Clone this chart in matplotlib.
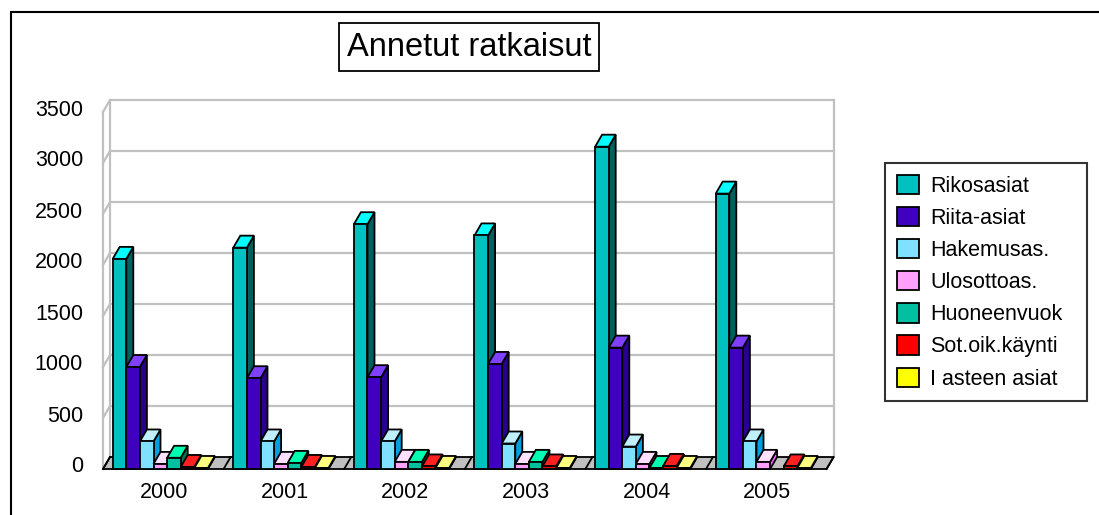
import matplotlib
matplotlib.use("Agg")
import matplotlib.pyplot as plt
from matplotlib.patches import Polygon, Patch, Rectangle
from matplotlib import transforms

plt.rcParams['font.family'] = ['Liberation Sans', 'DejaVu Sans']

# data
years = ['2000', '2001', '2002', '2003', '2004', '2005']
series = ['Rikosasiat', 'Riita-asiat', 'Hakemusas.', 'Ulosottoas.',
          'Huoneenvuok', 'Sot.oik.käynti', 'I asteen asiat']
rikos = [2060, 2170, 2400, 2290, 3160, 2700]
riita = [1000, 890, 900, 1030, 1190, 1190]
hakemus = [270, 270, 270, 250, 220, 270]
ulosotto = [50, 50, 70, 50, 50, 70]
huoneen = [110, 60, 70, 70, 10, 0]
sotoik = [20, 20, 25, 25, 30, 25]
iasteen = [10, 10, 10, 10, 10, 10]
values = [rikos, riita, hakemus, ulosotto, huoneen, sotoik, iasteen]
yticks = [0, 500, 1000, 1500, 2000, 2500, 3000, 3500]

# (front, top, side) colours of each series
colors = [('#00C0C0', '#00FFFF', '#006060'),
          ('#4000C0', '#8040FF', '#2A0090'),
          ('#80E0FF', '#C0F0FF', '#00A0E0'),
          ('#FFA0FF', '#FFE0FF', '#FF60FF'),
          ('#00C0A0', '#00FFB0', '#007858'),
          ('#FF0000', '#FF2020', '#A00000'),
          ('#FFFF00', '#FFFF80', '#C0C000')]

W, H = 1099, 515
fig = plt.figure(figsize=(W / 100, H / 100), dpi=100)
fig.patch.set_facecolor('white')

# front floor edge: x 103..826 px, value 0 at y=469, 3500 at y=112
ax = fig.add_axes([103 / W, (H - 469) / H, 723.6 / W, 357 / H])
ax.set_xlim(-0.5, 5.5)
ax.set_ylim(0, 3500)
ax.axis('off')

# depth offset of the 3d box (7 px right, 12 px up)
DX = 7 / 120.6
DY = 12 / 0.102
grid_c = '#C0C0C0'

# walls and gridlines
for v in yticks[1:]:
    ax.plot([-0.5, -0.5 + DX, 5.5 + DX], [v, v + DY, v + DY],
            color=grid_c, lw=1.6, clip_on=False, zorder=1)
ax.plot([-0.5, -0.5], [0, 3500], color=grid_c, lw=1.6, clip_on=False, zorder=1)
ax.plot([-0.5 + DX, -0.5 + DX], [DY, 3500 + DY], color=grid_c, lw=1.6,
        clip_on=False, zorder=1)
ax.plot([5.5 + DX, 5.5 + DX], [DY, 3500 + DY], color=grid_c, lw=1.6,
        clip_on=False, zorder=1)

# floor
floor = Polygon([(-0.5, 0), (5.5, 0), (5.5 + DX, DY), (-0.5 + DX, DY)],
                closed=True, facecolor='#C0C0C0', edgecolor='black', lw=1.3,
                clip_on=False, zorder=2)
ax.add_patch(floor)
for k in range(len(years) + 1):
    ax.plot([k - 0.5, k - 0.5 + DX], [0, DY], color='black', lw=1.3,
            clip_on=False, zorder=2)

# bars
bw = 13.6 / 120.6
off = 9.7 / 120.6
z = 3
for i in range(len(years)):
    for j, vals in enumerate(values):
        v = vals[i]
        if v <= 0:
            continue
        x0 = i - 0.5 + off + j * bw
        fc, tc, sc = colors[j]
        front = [(x0, 0), (x0 + bw, 0), (x0 + bw, v), (x0, v)]
        top = [(x0, v), (x0 + bw, v), (x0 + bw + DX, v + DY), (x0 + DX, v + DY)]
        side = [(x0 + bw, 0), (x0 + bw + DX, DY), (x0 + bw + DX, v + DY), (x0 + bw, v)]
        for pts, c in ((side, sc), (top, tc), (front, fc)):
            ax.add_patch(Polygon(pts, closed=True, facecolor=c, edgecolor='black',
                                 lw=1.3, joinstyle='miter', clip_on=False, zorder=z))
        z += 1

# y tick labels
ytr = transforms.offset_copy(ax.get_yaxis_transform(), fig=fig, x=-20, y=2, units='dots')
for v in yticks:
    ax.text(0, v, str(v), transform=ytr, ha='right', va='center', fontsize=15.5)

# x tick labels
xtr = transforms.offset_copy(ax.get_xaxis_transform(), fig=fig, x=1, y=-23, units='dots')
for i, yr in enumerate(years):
    ax.text(i, 0, yr, transform=xtr, ha='center', va='center', fontsize=15.5)

# title
fig.text(469 / W, 1 - 47 / H, 'Annetut ratkaisut', ha='center', va='center',
         fontsize=23.5,
         bbox=dict(boxstyle='square,pad=0.25', facecolor='white',
                   edgecolor='black', lw=1.3))

# legend
handles = [Patch(facecolor=c[0], edgecolor='black', lw=1.3) for c in colors]
leg = fig.legend(handles, series, loc='upper left',
                 bbox_to_anchor=(885 / W, (H - 402) / H, 202 / W, 239 / H),
                 mode='expand', fontsize=15.5, frameon=True, fancybox=False,
                 borderpad=0.55, borderaxespad=0, handlelength=1.05,
                 handleheight=1.0, handletextpad=0.5, labelspacing=0.47)
leg.get_frame().set_edgecolor('black')
leg.get_frame().set_linewidth(1.5)

# outer chart border
fig.add_artist(Rectangle((11 / W, -0.1), 2, 1 - 12 / H + 0.1, transform=fig.transFigure,
                         fill=False, edgecolor='black', lw=1.5))

fig.savefig('out.png', dpi=100)
